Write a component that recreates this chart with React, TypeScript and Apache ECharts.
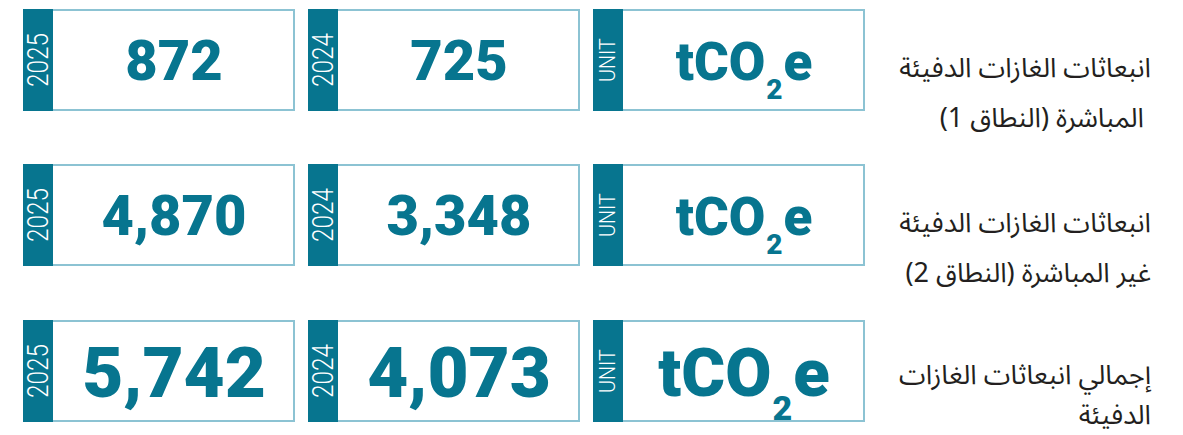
import React, { useEffect, useRef } from 'react';
import * as echarts from 'echarts';

// ---- data ----
const rowLabels: string[][] = [
  ['انبعاثات الغازات الدفيئة', 'المباشرة (النطاق 1)'],
  ['انبعاثات الغازات الدفيئة', 'غير المباشرة (النطاق 2)'],
  ['إجمالي انبعاثات الغازات', 'الدفيئة'],
];
const columnHeaders = ['2025', '2024', 'UNIT'];
const values2025 = [872, 4870, 5742];
const values2024 = [725, 3348, 4073];
const units = ['tCO2e', 'tCO2e', 'tCO2e'];

// ---- layout / style ----
const W = 1183;
const H = 435;
const TEAL = '#07758f';
const BORDER = '#8cc3d3';
const TEXT = '#231f20';
const rowTops = [9, 164, 320];
const rowH = 102;
const colX = [23, 308, 593];
const boxW = 272;
const stripW = 30;
const valueFont = [56, 56, 71];
const unitFont = [53, 53, 67];
const subFont = [28, 28, 34];
const labelRight = 1151;
const labelIndent = ['\u00A0', '', ''];
const labelCenter = [84, 84, 75];
const labelLineH = [50, 50, 40];

const fmt = (v: number) => v.toLocaleString('en-US');

function buildGraphics() {
  const els: any[] = [];
  rowTops.forEach((top, r) => {
    const cy = top + rowH / 2;
    const cells = [fmt(values2025[r]), fmt(values2024[r]), units[r]];
    colX.forEach((x, c) => {
      els.push({
        type: 'rect',
        shape: { x: x + 1, y: top + 1, width: boxW - 2, height: rowH - 2 },
        style: { fill: '#fff', stroke: BORDER, lineWidth: 2 },
      });
      els.push({
        type: 'rect',
        shape: { x: x, y: top, width: stripW, height: rowH },
        style: { fill: TEAL },
      });
      const isUnit = columnHeaders[c] === 'UNIT';
      els.push({
        type: 'text',
        x: x + stripW / 2,
        y: cy,
        rotation: Math.PI / 2,
        scaleX: isUnit ? 0.9 : 0.84,
        style: {
          text: columnHeaders[c],
          fill: '#ffffff',
          fontSize: isUnit ? 22 : 29,
          fontWeight: 300,
          fontFamily: 'Roboto, sans-serif',
          align: 'center',
          verticalAlign: 'middle',
        },
      });
      const cx = x + stripW + (boxW - stripW) / 2;
      if (!isUnit) {
        els.push({
          type: 'text',
          x: cx,
          y: cy + 1,
          style: {
            text: cells[c],
            fill: TEAL,
            fontSize: valueFont[r],
            fontWeight: 900,
            fontFamily: 'Roboto, sans-serif',
            align: 'center',
            verticalAlign: 'middle',
          },
        });
      } else {
        const fa = unitFont[r];
        const fb = subFont[r];
        const pad = Math.round(0.83 * fa - 0.14 * fb);
        const parts = cells[c].split('2');
        els.push({
          type: 'text',
          x: cx,
          y: cy + 2 - fa / 2,
          style: {
            text: `{a|${parts[0]}}{b|2}{a|${parts[1]}}`,
            align: 'center',
            verticalAlign: 'top',
            rich: {
              a: {
                fontSize: fa,
                lineHeight: fa,
                fontWeight: 900,
                fontFamily: 'Roboto, sans-serif',
                fill: TEAL,
                verticalAlign: 'top',
              },
              b: {
                fontSize: fb,
                lineHeight: fb,
                fontWeight: 900,
                fontFamily: 'Roboto, sans-serif',
                fill: TEAL,
                verticalAlign: 'top',
                padding: [pad, 1, 0, 1],
              },
            },
          },
        });
      }
    });
    const lines = rowLabels[r].map(
      (line, i) => '\u202B' + (i === 1 ? labelIndent[r] : '') + line + '\u202C'
    );
    els.push({
      type: 'text',
      x: labelRight,
      y: top + labelCenter[r],
      style: {
        text: lines.join('\n'),
        fill: TEXT,
        fontSize: 27,
        lineHeight: labelLineH[r],
        fontFamily: '"Noto Sans Arabic", "Noto Naskh Arabic", "DejaVu Sans", sans-serif',
        align: 'right',
        verticalAlign: 'middle',
      },
    });
  });
  return els;
}

export default function App() {
  const ref = useRef<HTMLDivElement>(null);
  useEffect(() => {
    if (!ref.current) return;
    const chart = echarts.init(ref.current, undefined, { renderer: 'svg' });
    chart.setOption({
      animation: false,
      backgroundColor: '#ffffff',
      graphic: { elements: buildGraphics() },
    });
    return () => chart.dispose();
  }, []);
  return (
    <div
      ref={ref}
      style={{ position: 'absolute', left: 0, top: 0, width: W, height: H, background: '#fff' }}
    />
  );
}
